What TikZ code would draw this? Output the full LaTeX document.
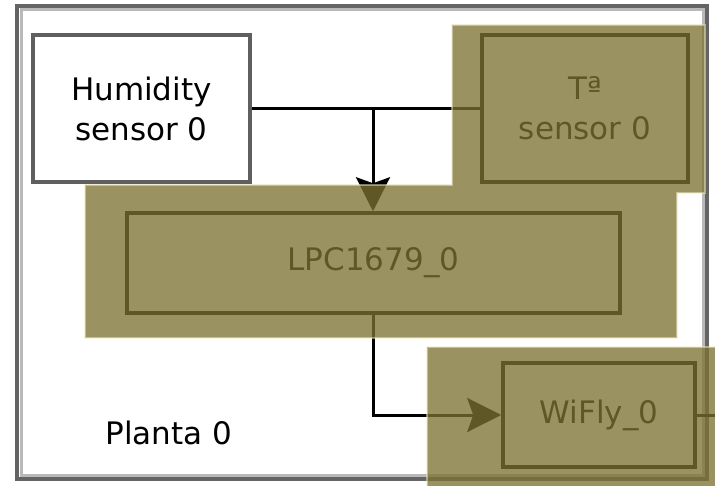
\documentclass[tikz,border=0pt]{standalone}
\usepackage{fontspec}
\setmainfont{DejaVu Sans}
\usetikzlibrary{arrows.meta}
\definecolor{framedark}{RGB}{100,100,100}
\definecolor{framelight}{RGB}{185,185,185}
\definecolor{humline}{RGB}{95,95,95}
\definecolor{hilite}{RGB}{124,115,50}
\definecolor{hiliteedge}{RGB}{240,236,200}
\tikzset{
  txt/.style={font=\fontsize{31}{40}\selectfont, text=black, align=center},
  box/.style={txt, draw=black, line width=3.5pt, inner sep=0pt, fill=white},
  humbox/.style={box, draw=humline},
  conn/.style={draw=black, line width=3pt},
  arr/.style={conn, -{Stealth[length=34pt,width=34pt,inset=6pt]}},
  hl/.style={fill=hilite, fill opacity=0.77, draw=hiliteedge, draw opacity=0.5, line width=1.2pt}
}
\begin{document}
\begin{tikzpicture}[x=1pt,y=-1pt]
\useasboundingbox (0,0) rectangle (715,486);
\fill[white] (0,0) rectangle (715,486);
% outer frame
\draw[framelight, line width=3pt] (21,10) rectangle (703,475);
\draw[framedark, line width=3.5pt] (17,6) rectangle (707,479);
% nodes
\node[humbox, minimum width=217pt, minimum height=147pt] (hum) at (141.5,108.5) {Humidity\\sensor 0};
\node[box, minimum width=206pt, minimum height=147pt] (ts) at (585,108.5) {Tª\\sensor 0};
\node[box, minimum width=493pt, minimum height=100pt] (lpc) at (373.5,263) {LPC1679\_0};
\node[box, minimum width=192pt, minimum height=104pt] (wifly) at (599,415) {WiFly\_0};
\node[txt, inner sep=0pt] (planta) at (169,433) {Planta 0};
% connectors
\coordinate (j) at (373,108.5);
\coordinate (r) at (716,420);
\draw[conn] (hum.east) -- (ts.west);
\draw[arr] (j) -- (j |- lpc.north);
\draw[arr] (j |- lpc.south) |- (wifly.west);
\draw[conn] (wifly.east) -- (wifly.east -| r);
% highlight overlays
\path[hl] (85,185) -- (452,185) -- (452,25) -- (705,25) -- (705,193) -- (677,193) -- (677,338) -- (85,338) -- cycle;
\path[hl] (427,347) rectangle (720,490);
\end{tikzpicture}
\end{document}
